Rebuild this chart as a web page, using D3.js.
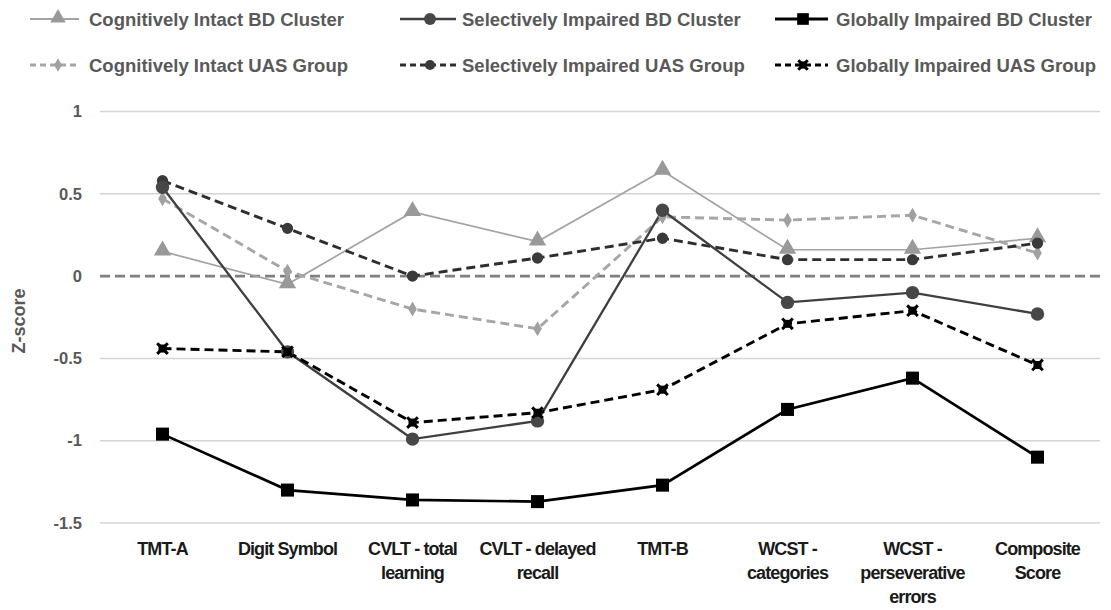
<!DOCTYPE html>
<html><head><meta charset="utf-8">
<script src="https://cdn.jsdelivr.net/npm/d3@7"></script>
<style>
body{margin:0;background:#fff;}
svg{display:block;}
text{font-family:"Liberation Sans",Arial,sans-serif;font-weight:bold;}
</style></head>
<body><svg id="c" width="1111" height="610"></svg>
<script>
const categories = [["TMT-A"],["Digit Symbol"],["CVLT - total","learning"],["CVLT - delayed","recall"],["TMT-B"],["WCST -","categories"],["WCST -","perseverative","errors"],["Composite","Score"]];
const yTicks = [1, 0.5, 0, -0.5, -1, -1.5];
const seriesNames = ["Cognitively Intact BD Cluster","Selectively Impaired BD Cluster","Globally Impaired BD Cluster","Cognitively Intact UAS Group","Selectively Impaired UAS Group","Globally Impaired UAS Group"];
const cogIntactBD   = [0.15, -0.05, 0.39, 0.21, 0.64, 0.16, 0.16, 0.23];
const selImpBD      = [0.54, -0.46, -0.99, -0.88, 0.40, -0.16, -0.10, -0.23];
const globImpBD     = [-0.96, -1.30, -1.36, -1.37, -1.27, -0.81, -0.62, -1.10];
const cogIntactUAS  = [0.47, 0.03, -0.20, -0.32, 0.36, 0.34, 0.37, 0.14];
const selImpUAS     = [0.58, 0.29, 0.00, 0.11, 0.23, 0.10, 0.10, 0.20];
const globImpUAS    = [-0.44, -0.46, -0.89, -0.83, -0.69, -0.29, -0.21, -0.54];

const styles = [
  {data:cogIntactBD,  color:"#a3a3a3", fill:"#999", w:1.7, dash:null, sym:"tri", size:130},
  {data:selImpBD,     color:"#3f3f3f", fill:"#474747", w:2.3, dash:null, sym:"circle", size:140},
  {data:globImpBD,    color:"#000", fill:"#000", w:2.7, dash:null, sym:"square", size:170},
  {data:cogIntactUAS, color:"#a6a6a6", fill:"#a0a0a0", w:2.9, dash:"9,5", sym:"pent", size:65},
  {data:selImpUAS,    color:"#2e2e2e", fill:"#3a3a3a", w:2.9, dash:"9,5", sym:"circle", size:100},
  {data:globImpUAS,   color:"#000", fill:"#000", w:2.9, dash:"9,5", sym:"xsq", size:75}
];

const svg = d3.select("#c");
const x = d3.scaleBand().domain(d3.range(categories.length)).range([100,1100]);
const y = d3.scaleLinear().domain([-1.5,1]).range([523,111.5]);

// gridlines
svg.append("g").selectAll("line").data(yTicks.filter(d=>d!==0)).join("line")
  .attr("x1",100).attr("x2",1100).attr("y1",d=>y(d)).attr("y2",d=>y(d))
  .attr("stroke","#d4d4d4").attr("stroke-width",1.5);
// zero line
svg.append("line").attr("x1",100).attr("x2",1100).attr("y1",y(0)).attr("y2",y(0))
  .attr("stroke","#7f7f7f").attr("stroke-width",2.6).attr("stroke-dasharray","10,5");

// y axis tick labels
const yAxis = d3.axisLeft(y).tickValues(yTicks).tickSize(0).tickPadding(0).tickFormat(d=>String(d));
const ya = svg.append("g").attr("transform","translate(82,0)").call(yAxis);
ya.select(".domain").remove();
ya.selectAll("text").attr("fill","#595959").style("font-size","16.5px").style("font-family","'Liberation Sans',Arial,sans-serif").style("font-weight","bold");

svg.append("text").attr("transform","translate(25,321) rotate(-90)").attr("text-anchor","middle")
  .attr("fill","#595959").style("font-size","18px").text("Z-score");

// x labels
const xl = svg.append("g");
categories.forEach((lines,i)=>{
  const t = xl.append("text").attr("text-anchor","middle").attr("fill","#1a1a1a")
    .style("font-size","18px").style("letter-spacing","-0.9px");
  lines.forEach((ln,j)=>{
    t.append("tspan").attr("x",x(i)+x.bandwidth()/2).attr("y",555+j*24).text(ln);
  });
});

function symPath(s, scale){
  const sz = s.size*(scale||1);
  if(s.sym==="tri") return d3.symbol(d3.symbolTriangle, sz)();
  if(s.sym==="circle") return d3.symbol(d3.symbolCircle, sz)();
  if(s.sym==="square") return d3.symbol(d3.symbolSquare, sz)();
  if(s.sym==="pent") return d3.symbol(d3.symbolDiamond, sz)();
  if(s.sym==="xsq") return d3.symbol(d3.symbolX, sz)();
}
function drawMarker(g, s, cx, cy, scale){
  scale = scale||1;
  if(s.sym==="xsq"){
    const h = 4*Math.sqrt(scale);
    g.append("rect").attr("x",cx-h).attr("y",cy-h).attr("width",2*h).attr("height",2*h).attr("fill",s.fill);
    g.append("path").attr("d",symPath(s,scale)).attr("transform",`translate(${cx},${cy})`)
      .attr("stroke",s.fill).attr("stroke-width",3).attr("fill","none");
  } else if(s.sym==="tri"){
    g.append("path").attr("d",symPath(s,scale)).attr("transform",`translate(${cx},${cy-1})`).attr("fill",s.fill);
  } else {
    g.append("path").attr("d",symPath(s,scale)).attr("transform",`translate(${cx},${cy})`).attr("fill",s.fill);
  }
}

const line = d3.line().x((d,i)=>x(i)+x.bandwidth()/2).y(d=>y(d));
const drawOrder = [0,3,4,1,5,2];
drawOrder.forEach(k=>{
  const s = styles[k];
  svg.append("path").datum(s.data).attr("d",line).attr("fill","none")
    .attr("stroke",s.color).attr("stroke-width",s.w).attr("stroke-dasharray",s.dash);
});
drawOrder.forEach(k=>{
  const s = styles[k];
  const g = svg.append("g");
  s.data.forEach((v,i)=>drawMarker(g,s,x(i)+x.bandwidth()/2,y(v)));
});

// legend
const legX = [[30,84,58,89],[400,461,430,462],[775,833,803,836]];
const legY = [19,65];
styles.forEach((s,k)=>{
  const col = k%3, row = Math.floor(k/3);
  const [x1,x2,mx,tx] = legX[col]; const ly = legY[row];
  const g = svg.append("g");
  g.append("line").attr("x1",x1).attr("x2",x2-5).attr("y1",ly).attr("y2",ly)
    .attr("stroke",s.color).attr("stroke-width",s.w+0.3).attr("stroke-dasharray",s.dash?"6,4":null);
  drawMarker(g,s,mx,ly,0.8);
  g.append("text").attr("x",tx).attr("y",ly+6.5).attr("fill","#595959").style("font-size","18.5px").text(seriesNames[k]);
});
</script></body></html>
